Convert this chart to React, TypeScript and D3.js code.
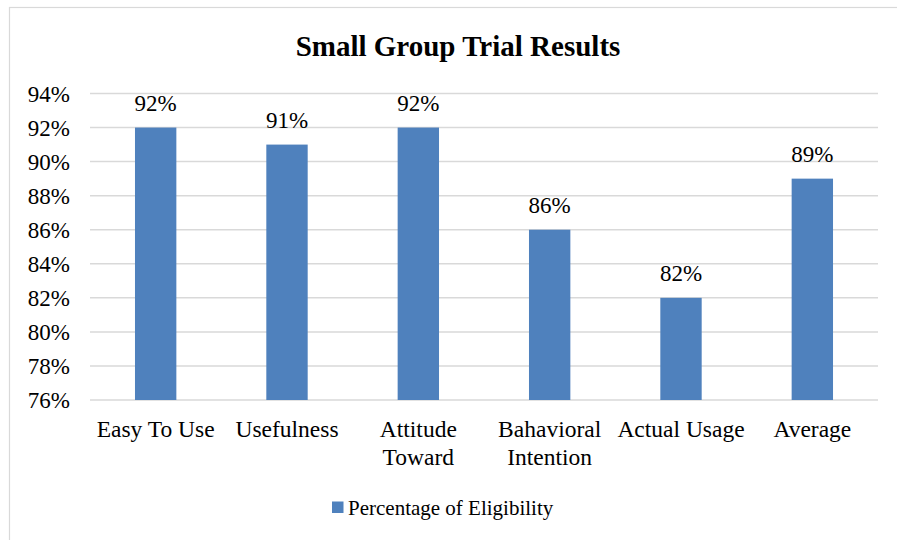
import React from "react";
import * as d3 from "d3";

const title = "Small Group Trial Results";
const categories = ["Easy To Use", "Usefulness", "Attitude Toward", "Bahavioral Intention", "Actual Usage", "Average"];
const values = [0.92, 0.91, 0.92, 0.86, 0.82, 0.89];
const yTicks = [0.76, 0.78, 0.8, 0.82, 0.84, 0.86, 0.88, 0.9, 0.92, 0.94];
const seriesName = "Percentage of Eligibility";

const W = 897;
const H = 540;
const FONT = "Liberation Serif";
const BAR = "#4F81BD";
const GRID = "#d9d9d9";

let ctx: CanvasRenderingContext2D | null = null;
function measure(s: string, size: number): number {
  if (!ctx) ctx = document.createElement("canvas").getContext("2d");
  if (!ctx) return s.length * size * 0.45;
  ctx.font = `${size}px "Liberation Serif", serif`;
  return ctx.measureText(s).width;
}

function wrap(s: string, maxW: number, size: number): string[] {
  const words = s.split(" ");
  const lines: string[] = [];
  let cur: string[] = [];
  words.forEach((w) => {
    const trial = [...cur, w];
    if (cur.length > 0 && measure(trial.join(" "), size) > maxW) {
      lines.push(cur.join(" "));
      cur = [w];
    } else cur = trial;
  });
  if (cur.length) lines.push(cur.join(" "));
  return lines;
}

export default function App() {
  const left = 90, right = 878, top = 93.5, bottom = 400;
  const y = d3.scaleLinear().domain([0.76, 0.94]).range([bottom, top]);
  const x = d3.scaleBand<string>().domain(categories).range([left, right]).paddingInner(0.685).paddingOuter(0.3425);
  const fmt = d3.format(".0%");
  const step = x.step();

  return (
    <svg width={W} height={H} style={{ position: "absolute", left: 0, top: 0, display: "block", fontFamily: FONT }}>
      <rect x={0} y={0} width={W} height={H} fill="#fff" />
      <rect x={9.5} y={7.5} width={1000} height={1000} fill="none" stroke={GRID} strokeWidth={1.2} />
      <text x={458} y={56} textAnchor="middle" style={{ fontFamily: FONT, fontWeight: "bold", fontSize: 29 }} fill="#000">{title}</text>

      {yTicks.map((t) => (
        <line key={"g" + t} x1={left} x2={right} y1={y(t)} y2={y(t)} stroke={GRID} strokeWidth={1.5} />
      ))}
      {yTicks.map((t) => (
        <text key={"t" + t} x={70} y={y(t) + 8} textAnchor="end" style={{ fontFamily: FONT, fontSize: 23 }} fill="#000">{fmt(t)}</text>
      ))}

      {values.map((v, i) => (
        <rect key={"b" + i} x={x(categories[i])} width={x.bandwidth()} y={y(v)} height={bottom - y(v)} fill={BAR} />
      ))}
      {values.map((v, i) => (
        <text key={"l" + i} x={x(categories[i])! + x.bandwidth() / 2} y={y(v) - 17} textAnchor="middle"
          style={{ fontFamily: FONT, fontSize: 23 }} fill="#000">{fmt(v)}</text>
      ))}

      {categories.map((c) => {
        const cx = x(c)! + x.bandwidth() / 2;
        const lines = wrap(c, step, 23.5);
        return (
          <text key={"c" + c} textAnchor="middle" style={{ fontFamily: FONT, fontSize: 23.5 }} fill="#000">
            {lines.map((ln, j) => (
              <tspan key={j} x={cx} y={437 + j * 27.5}>{ln}</tspan>
            ))}
          </text>
        );
      })}

      <rect x={332} y={501.5} width={11.5} height={11.5} fill={BAR} />
      <text x={348} y={515} style={{ fontFamily: FONT, fontSize: 21 }} fill="#000">{seriesName}</text>
    </svg>
  );
}
